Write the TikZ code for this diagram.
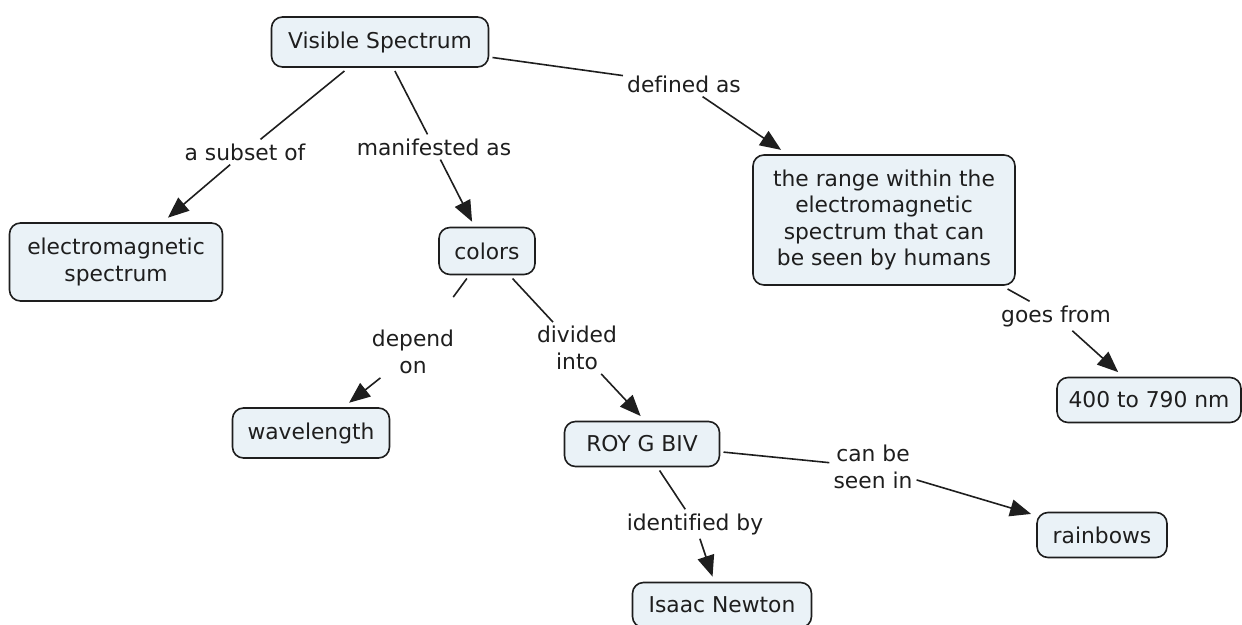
\documentclass[tikz,border=0pt]{standalone}
\usepackage{fontspec}
\setmainfont[Ligatures=NoCommon]{DejaVu Sans}
\usetikzlibrary{arrows.meta}
\definecolor{cfill}{RGB}{234,242,247}
\definecolor{cline}{RGB}{30,30,30}
\begin{document}
\begin{tikzpicture}[x=1pt,y=-1pt,
  concept/.style={draw=cline, line width=1.6pt, fill=cfill, rounded corners=11pt,
    align=center, inner sep=0pt, outer sep=4pt,
    font=\fontsize{21.8}{26.5}\selectfont, text=cline},
  lbl/.style={align=center, inner sep=4pt, font=\fontsize{21.8}{26.5}\selectfont, text=cline},
  link/.style={draw=cline, line width=1.6pt},
  arr/.style={link, -{Triangle[length=21pt,width=17pt]}, shorten >=2pt}]
\path[use as bounding box] (0,0) rectangle (1242,624);
% concepts
\node[concept, minimum width=217pt, minimum height=50pt] (vs) at (380,42) {Visible Spectrum};
\node[concept, minimum width=213pt, minimum height=78pt] (em) at (116,262) {electromagnetic\\spectrum};
\node[concept, minimum width=96pt, minimum height=47pt] (colors) at (487,251) {colors};
\node[concept, minimum width=262pt, minimum height=130pt] (range) at (884,220) {the range within the\\electromagnetic\\spectrum that can\\be seen by humans};
\node[concept, minimum width=184pt, minimum height=45pt] (nm) at (1149,400) {400 to 790 nm};
\node[concept, minimum width=157pt, minimum height=50pt] (wave) at (311,433) {wavelength};
\node[concept, minimum width=155pt, minimum height=45pt] (roy) at (642,444) {ROY G BIV};
\node[concept, minimum width=130pt, minimum height=45pt] (rain) at (1102,535) {rainbows};
\node[concept, minimum width=179pt, minimum height=45pt] (newton) at (722,605) {Isaac Newton};
% link labels
\node[lbl] (l1) at (245,152) {a subset of};
\node[lbl] (l2) at (434,147) {manifested as};
\node[lbl] (l3) at (684,84) {defined as};
\node[lbl] (l4) at (413,352) {depend\\on};
\node[lbl] (l5) at (577,348) {divided\\into};
\node[lbl] (l6) at (1056,316) {goes from};
\node[lbl] (l7) at (873,467) {can be\\seen in};
\node[lbl] (l8) at (695,524) {identified by};
% connectors
\draw[link] (vs) -- (l1); \draw[arr] (l1) -- (em);
\draw[link] (vs) -- (l2); \draw[arr] (l2) -- (colors);
\draw[link] (vs) -- (l3); \draw[arr] (l3) -- (range);
\draw[link, shorten >=36pt] (colors) -- (l4); \draw[arr] (l4) -- (wave);
\draw[link] (colors) -- (l5); \draw[arr] (l5) -- (roy.north);
\draw[link] (range) -- (l6); \draw[arr] (l6) -- (nm);
\draw[link] (roy) -- (l7); \draw[arr] (l7) -- (rain);
\draw[link] (roy) -- (l8); \draw[arr] (l8) -- (newton);
\end{tikzpicture}
\end{document}
